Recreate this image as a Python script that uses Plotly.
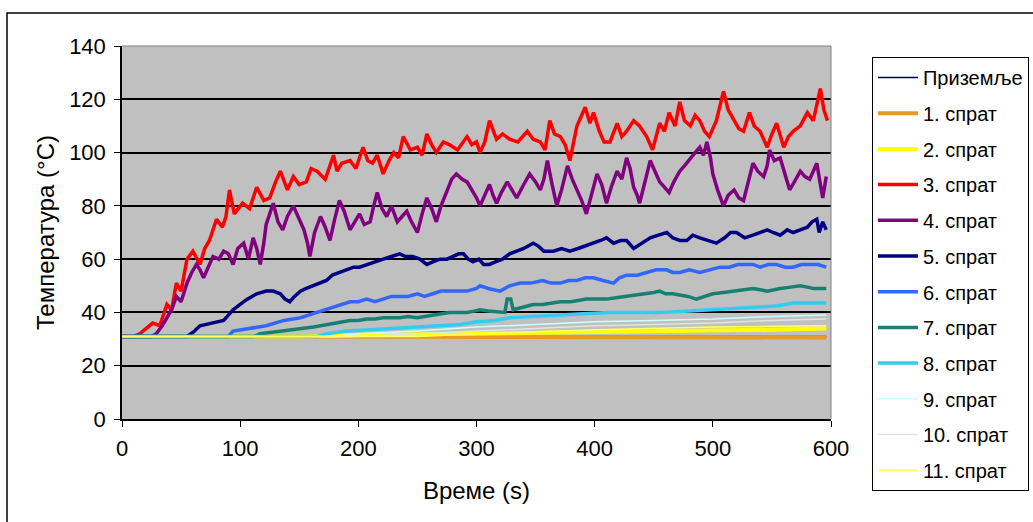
import plotly.graph_objects as go

# ---------------- data (time in s, temperature in °C) ----------------
names = ["Приземље", "1. спрат", "2. спрат", "3. спрат", "4. спрат", "5. спрат",
         "6. спрат", "7. спрат", "8. спрат", "9. спрат", "10. спрат", "11. спрат"]

t_ground = [0, 150, 300, 450, 596]
v_ground = [31, 31, 31, 31, 31]

t_f1 = [0, 200, 400, 596]
v_f1 = [31, 30.8, 30.6, 30.6]

t_f2 = [0, 150, 200, 300, 400, 450, 500, 550, 596]
v_f2 = [31, 31, 31.5, 32, 32.5, 33, 33, 33.5, 34]

t_f3 = [0, 10, 15, 20, 26, 32, 38, 42, 46, 50, 55, 60, 66, 70, 74, 80, 85, 88, 91, 95,
        102, 108, 114, 120, 125, 130, 134, 140, 145, 150, 156, 160, 165, 172, 179, 182,
        186, 193, 198, 204, 208, 212, 216, 221, 226, 230, 234, 238, 244, 250, 254, 258,
        262, 266, 272, 277, 284, 292, 296, 300, 303, 307, 311, 317, 322, 328, 335, 343,
        348, 354, 358, 362, 366, 371, 375, 379, 385, 392, 396, 399, 404, 408, 413, 419,
        423, 427, 433, 438, 444, 449, 455, 459, 463, 468, 472, 476, 481, 485, 489, 493,
        497, 503, 509, 513, 518, 522, 526, 531, 535, 540, 546, 550, 554, 560, 564, 568,
        574, 580, 585, 588, 591, 594, 597]
v_f3 = [31, 31, 32, 34, 36, 35, 43, 41, 51, 48, 60, 63, 58, 64, 67, 75, 72, 76, 86, 77,
        81, 79, 87, 82, 83, 89, 93, 86, 91, 88, 89, 94, 93, 90, 99, 93,
        96, 97, 94, 102, 97, 96, 99, 92, 97, 100, 98, 106, 101, 102, 99, 107,
        103, 100, 104, 103, 101, 106, 103, 104, 100, 104, 112, 105, 107, 105, 104, 108,
        105, 104, 101, 112, 107, 106, 103, 97, 110, 117, 111, 115, 108, 104, 104, 111,
        106, 108, 112, 110, 106, 101, 111, 108, 115, 110, 119, 112, 110, 114, 112, 108,
        106, 112, 123, 116, 112, 109, 108, 115, 110, 108, 102, 107, 111, 102, 106, 108,
        110, 115, 112, 118, 124, 116, 112]

t_f4 = [0, 25, 29, 34, 38, 42, 46, 50, 55, 59, 63, 66, 69, 73, 77, 82, 86, 90, 94, 98,
        103, 107, 111, 114, 117, 120, 122, 125, 128, 132, 136, 140, 145, 150, 154, 157,
        159, 163, 168, 172, 176, 180, 184, 188, 193, 197, 201, 205, 210, 213, 216, 220,
        224, 228, 233, 237, 241, 245, 250, 254, 258, 262, 266, 270, 275, 279, 283, 288,
        292, 296, 300, 303, 307, 311, 314, 317, 321, 326, 330, 334, 340, 345, 350, 354,
        357, 360, 364, 368, 372, 377, 381, 385, 389, 393, 397, 402, 406, 410, 414, 419,
        423, 427, 430, 433, 436, 438, 442, 447, 451, 455, 459, 463, 467, 472, 476, 481,
        485, 489, 492, 495, 498, 500, 504, 509, 513, 518, 522, 526, 530, 534, 538, 543,
        546, 548, 552, 557, 561, 565, 569, 574, 578, 582, 585, 588, 591, 593, 596]
v_f4 = [31, 31, 32, 35, 38, 41, 46, 44, 51, 55, 58, 56, 53, 57, 61, 60, 63, 62, 58, 64,
        66, 60, 68, 64, 58, 66, 73, 77, 81, 74, 71, 76, 80, 75, 71, 66,
        61, 70, 76, 72, 67, 75, 82, 78, 71, 74, 77, 73, 74, 80, 85, 79,
        76, 80, 74, 76, 78, 74, 70, 77, 83, 79, 74, 80, 86, 90, 92, 90,
        89, 86, 83, 80, 84, 88, 84, 81, 85, 89, 86, 83, 88, 92, 89, 86,
        90, 97, 88, 80, 86, 95, 90, 86, 82, 77, 84, 92, 88, 81, 87, 93,
        90, 98, 94, 87, 84, 81, 88, 97, 93, 89, 87, 85, 89, 93, 95, 98,
        100, 102, 99, 104, 98, 92, 86, 80, 84, 86, 83, 82, 89, 96, 93, 91,
        95, 101, 97, 98, 92, 86, 89, 93, 91, 90, 93, 96, 88, 83, 91]

t_f5 = [0, 55, 60, 66, 76, 86, 90, 94, 100, 106, 114, 122, 128, 134, 138, 142, 146, 151,
        156, 162, 168, 173, 178, 184, 190, 196, 201, 207, 214, 221, 228, 235, 240, 246,
        252, 258, 263, 269, 275, 280, 285, 289, 293, 297, 302, 306, 311, 316, 322, 328,
        334, 340, 348, 352, 357, 365, 372, 379, 386, 393, 400, 405, 410, 416, 422, 427,
        433, 440, 447, 454, 461, 466, 472, 478, 483, 489, 496, 503, 510, 515, 520, 527,
        534, 540, 546, 551, 557, 563, 568, 574, 580, 584, 588, 590, 593, 596]
v_f5 = [31, 31, 32.5, 35, 36, 37, 39, 41, 43, 45, 47, 48, 48, 47, 45, 44, 46, 48,
        49, 50, 51, 52, 54, 55, 56, 57, 57, 58, 59, 60, 61, 62, 61, 61,
        60, 58, 59, 60, 60, 61, 62, 62, 60, 59, 60, 58, 58, 59, 60, 62,
        63, 64, 66, 65, 63, 63, 64, 63, 64, 65, 66, 67, 68, 66, 67, 67,
        64, 66, 68, 69, 70, 68, 67, 67, 69, 68, 67, 66, 68, 70, 70, 68,
        69, 70, 71, 70, 69, 71, 70, 71, 72, 74, 75, 70, 74, 71]

t_f6 = [0, 90, 94, 108, 122, 137, 151, 165, 172, 179, 186, 193, 200, 207, 214, 221, 228,
        235, 242, 250, 256, 263, 270, 277, 286, 292, 300, 303, 310, 320, 328, 337, 346,
        356, 363, 371, 378, 385, 392, 399, 407, 416, 421, 427, 436, 444, 452, 461, 466,
        472, 480, 489, 497, 506, 514, 521, 529, 534, 540, 547, 554, 561, 568, 575, 582,
        589, 596]
v_f6 = [31, 31, 33, 34, 35, 37, 38, 40, 41, 42, 43, 44, 44, 45, 44, 45, 46,
        46, 46, 47, 46, 47, 48, 48, 48, 48, 49, 50, 49, 48, 50, 51, 51,
        52, 51, 51, 52, 52, 53, 53, 52, 51, 53, 54, 54, 55, 56, 56, 55,
        55, 56, 55, 56, 57, 57, 58, 58, 58, 57, 58, 58, 57, 57, 58, 58,
        58, 57]

t_f7 = [0, 112, 117, 127, 137, 147, 156, 162, 168, 174, 179, 186, 193, 200, 207, 214,
        221, 228, 235, 242, 250, 256, 263, 270, 277, 285, 292, 298, 303, 310, 320, 324,
        326, 329, 331, 340, 348, 356, 363, 371, 380, 387, 393, 400, 410, 418, 427, 436,
        444, 450, 455, 460, 466, 472, 479, 486, 492, 500, 509, 518, 526, 534, 540, 546,
        552, 557, 566, 574, 580, 585, 591, 596]
v_f7 = [31, 31, 32, 32.5, 33, 33.5, 34, 34.5, 35, 35.5, 36, 36.5, 37, 37, 37.5, 37.5,
        38, 38, 38, 38.5, 38, 38.5, 39, 39.5, 40, 40, 40, 40.5, 41, 40.5, 40, 40,
        45, 45, 41, 42, 43, 43, 43.5, 44, 44, 44.5, 45, 45, 45, 45.5, 46, 46.5,
        47, 47.5, 48, 47, 47, 46.5, 46, 45, 46, 47, 47.5, 48, 48.5, 49, 48.5, 48,
        48.5, 49, 49.5, 50, 49.5, 49, 49, 49]

t_f8 = [0, 165, 173, 190, 210, 230, 250, 270, 286, 300, 315, 328, 345, 360, 371, 390,
        413, 430, 455, 480, 500, 512, 525, 540, 555, 568, 580, 596]
v_f8 = [31, 31, 32, 33, 33.5, 34, 34.5, 35, 35.5, 36.5, 37, 38, 38.5, 39, 39, 39.5,
        40, 40, 40, 40.5, 41, 41, 41.5, 42, 42.5, 43.5, 43.5, 43.5]

t_f9 = [0, 180, 200, 250, 300, 350, 400, 450, 500, 550, 596]
v_f9 = [31, 31, 32, 33, 34.5, 35.5, 36.5, 37, 37.5, 38.5, 39]

t_f10 = [0, 200, 250, 300, 350, 400, 450, 500, 550, 596]
v_f10 = [31, 31, 32, 33, 34, 35, 35.5, 36, 37, 37.5]

t_f11 = [0, 250, 300, 400, 500, 596]
v_f11 = [31, 31, 32, 33.5, 34.5, 35]

x_ticks = [0, 100, 200, 300, 400, 500, 600]
y_ticks = [0, 20, 40, 60, 80, 100, 120, 140]

series_t = [t_ground, t_f1, t_f2, t_f3, t_f4, t_f5, t_f6, t_f7, t_f8, t_f9, t_f10, t_f11]
series_v = [v_ground, v_f1, v_f2, v_f3, v_f4, v_f5, v_f6, v_f7, v_f8, v_f9, v_f10, v_f11]

# ---------------- style ----------------
colors = ["#000066", "#E89A28", "#FFFF00", "#FF0000", "#800080", "#000080",
          "#3366FF", "#1A7F73", "#33CCEE", "#CCFFFF", "#DDE8DD", "#FFFF66"]
widths = [1.5, 4, 4, 3.5, 3.5, 3.5, 3.5, 3.5, 3.5, 1.5, 1.5, 1.5]
FONT = "Liberation Sans, Arial, sans-serif"

fig = go.Figure()
for i, (n, t, v) in enumerate(zip(names, series_t, series_v)):
    fig.add_trace(go.Scatter(x=t, y=v, mode="lines", name=n, legendgroup="g%d" % i,
                             line=dict(color=colors[i], width=widths[i])))

fig.update_layout(
    width=1033, height=522,
    margin=dict(l=122, r=202, t=46, b=103, autoexpand=False),
    paper_bgcolor="white", plot_bgcolor="#C0C0C0",
    font=dict(family=FONT, size=22, color="black"),
    showlegend=True,
    legend=dict(x=1.0578, y=0.9705, xanchor="left", yanchor="top",
                bgcolor="white", bordercolor="black", borderwidth=1,
                font=dict(family=FONT, size=20, color="black"),
                traceorder="grouped", tracegroupgap=6.7, itemwidth=40,
                maxheight=470),
    xaxis=dict(range=[0, 600], tickvals=x_ticks, ticks="outside", ticklen=6,
               tickcolor="black", showline=True, linecolor="black", linewidth=1.5,
               showgrid=False, zeroline=False, ticklabelstandoff=3,
               title=dict(text="Време (s)", font=dict(size=24), standoff=22)),
    yaxis=dict(range=[0, 140], tickvals=y_ticks, ticks="outside", ticklen=6,
               tickcolor="black", showline=True, linecolor="black", linewidth=1.5,
               showgrid=True, gridcolor="black", gridwidth=1.5, zeroline=False,
               ticklabelstandoff=4,
               title=dict(text="Температура (°C)", font=dict(size=24), standoff=8)),
    shapes=[
        # plot-area top and right edges (grey frame)
        dict(type="line", xref="paper", yref="paper", x0=0, x1=1, y0=1, y1=1,
             line=dict(color="#808080", width=1), layer="above"),
        dict(type="line", xref="paper", yref="paper", x0=1, x1=1, y0=0, y1=1,
             line=dict(color="#808080", width=1), layer="above"),
        # outer chart frame
        dict(type="rect", xref="paper", yref="paper", x0=-0.1622, x1=1.32,
             y0=-0.32, y1=1.0885, line=dict(color="black", width=1.5), layer="below"),
    ],
)

fig.write_html("out.html")
